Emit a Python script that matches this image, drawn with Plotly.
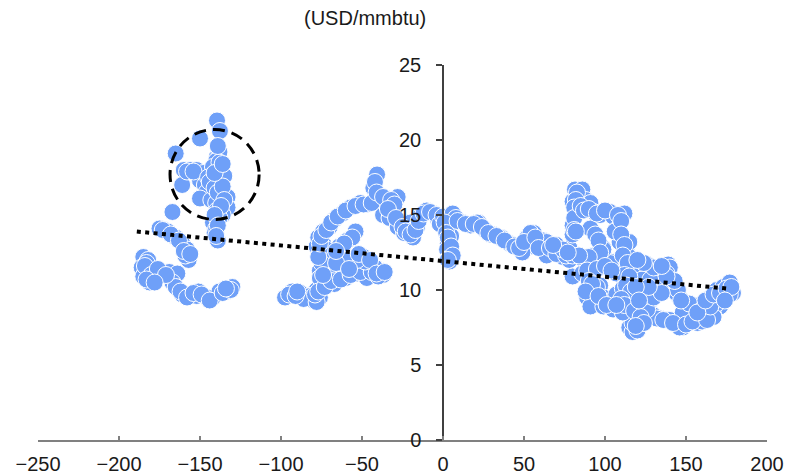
import plotly.graph_objects as go

# ---- data ----
pts_left = [
    (-139.5, 21.3), (-137.7, 20.6), (-150, 20.1), (-165, 19.1),
    (-160, 18.0), (-156, 18.0), (-152, 18.0), (-148, 17.8),
    (-139.5, 18.9), (-138, 19.2), (-140, 18.6), (-142, 18.2), (-137, 18.0), (-135, 17.6),
    (-150, 17.3), (-147, 17.0), (-161, 17.0), (-146, 16.5), (-138, 16.2), (-133, 16.2),
    (-150, 16.1), (-143, 16.0), (-140, 15.8),
    (-139.5, 15.3), (-133, 15.5), (-136, 15.0), (-167, 15.2), (-142, 14.5), (-138, 14.8),
    (-141, 13.8), (-139, 13.3), (-140, 14.1),
    (-175, 14.1), (-172, 14.0), (-170, 13.9), (-165, 13.5), (-161, 13.1), (-158, 12.7),
    (-157, 12.0), (-159, 12.3),
    (-185, 12.2), (-182, 12.0), (-186, 11.5), (-184, 11.1), (-181, 10.5), (-183, 11.8),
    (-185, 10.9), (-179, 10.7),
    (-177, 11.2), (-173, 11.2), (-169, 11.2), (-164, 11.1), (-167, 10.5), (-165, 10.2),
    (-161, 9.7), (-156, 9.7), (-151, 9.9), (-146, 9.5), (-142, 9.5), (-138, 9.9),
    (-133, 9.9), (-130, 10.2), (-152, 9.6),
    (-184, 11.6), (-180, 11.0), (-176, 11.4), (-171, 11.0), (-183, 10.7), (-178, 10.5),
    (-162, 9.9), (-158, 9.5), (-154, 9.8), (-149, 9.7), (-144, 9.3), (-136, 9.8),
    (-131, 10.0), (-134, 10.1),
    (-173, 14.0), (-168, 13.7), (-163, 13.3), (-160, 12.6), (-156, 12.4),
    (-158, 17.9), (-154, 17.9), (-145, 17.5), (-144, 17.2), (-141, 16.8), (-139, 16.5),
    (-136, 16.9), (-135, 16.0), (-137, 15.6), (-141, 15.0), (-139, 14.3), (-140, 13.6),
    (-138, 18.5), (-139, 19.6), (-141, 17.8), (-136, 18.4),
]
pts_mid = [
    (-97.5, 9.5), (-93, 9.9), (-88, 9.8), (-84, 9.5), (-80, 9.3), (-76, 9.5), (-78, 10.0),
    (-82, 9.6), (-86, 9.4), (-78, 9.2),
    (-74, 10.5), (-70, 10.7), (-65, 10.9), (-59, 11.1), (-53, 11.1), (-47, 10.8), (-37, 11.0),
    (-39, 11.3), (-45, 11.8), (-49, 12.2), (-57, 12.0), (-65, 12.2), (-74, 12.0), (-76, 11.3),
    (-72, 11.6), (-68, 11.4), (-62, 11.5), (-55, 11.6), (-42, 11.5), (-50, 11.4), (-60, 10.8),
    (-67, 10.4), (-71, 11.0), (-76, 10.8),
    (-64, 12.9), (-59, 13.3), (-54, 13.9), (-78, 12.9), (-74, 13.1), (-77, 13.5), (-74, 13.9),
    (-70, 14.2), (-67, 14.7), (-62, 15.1), (-57, 15.5), (-51, 15.8), (-47, 15.7), (-76, 12.5),
    (-72, 12.7),
    (-40.7, 17.7), (-43, 16.8), (-39, 16.3), (-35, 16.1), (-28, 16.2), (-36, 15.5), (-31, 15.1),
    (-26.5, 14.5), (-22, 14.0), (-18.5, 13.5), (-14, 14.9), (-10, 15.3), (-6, 15.1), (-37, 15.0),
    (-33, 14.8), (-28, 14.2), (-24, 13.8), (-20, 14.5), (-16, 14.2), (-3, 14.7),
    (-95, 9.7), (-91, 9.6), (-90, 9.9), (-79, 9.7), (-77, 9.9), (-73, 10.2), (-69, 10.6),
    (-63, 10.7), (-57, 11.0), (-51, 11.2), (-44, 11.2), (-40, 10.9), (-48, 11.9), (-53, 12.0),
    (-61, 12.1), (-69, 12.0), (-75, 11.8), (-77, 12.2), (-74, 11.0), (-66, 11.8), (-58, 11.4),
    (-52, 12.4), (-45, 12.0), (-41, 11.1), (-36, 11.2),
    (-76, 13.1), (-75, 13.6), (-72, 14.0), (-69, 14.5), (-65, 14.9), (-60, 15.3), (-54, 15.6),
    (-49, 15.7), (-44, 15.8), (-56, 13.5), (-61, 13.1), (-66, 12.6),
    (-42, 17.2), (-41, 16.5), (-37, 16.2), (-32, 16.0), (-30, 15.7), (-34, 15.4), (-29, 14.8),
    (-25, 14.2), (-23, 13.9), (-20, 13.7), (-17, 14.0), (-15, 14.6), (-12, 15.1), (-8, 15.2),
    (-4, 15.0), (-2, 14.4),
]
pts_center = [
    (0, 14.9), (6, 15.1), (4, 14.0), (3, 13.1), (4, 12.5), (2.5, 12.7), (4, 12.2), (4, 11.9),
    (8, 14.8), (5, 13.6),
    (12, 14.5), (17, 14.3), (22, 14.5), (26, 14.0), (31, 13.7), (36, 13.5), (41, 13.1), (46, 12.9),
    (52, 13.5), (56, 13.8), (54, 12.9), (60, 12.9), (65, 13.1), (68, 12.5), (74, 12.2), (80, 12.5),
    (70, 13.0), (62, 13.3), (21, 14.5), (29, 13.7), (35, 13.5), (43, 13.0), (49, 12.5), (54, 13.8),
    (58, 13.2), (64, 13.2), (64, 12.3), (72, 12.7), (78, 12.0),
    (1, 14.5), (2, 13.8), (3, 13.5), (5, 12.9), (6, 12.3), (3, 12.0), (9, 14.6), (14, 14.4),
    (19, 14.4), (24, 14.2), (28, 13.8), (33, 13.6), (38, 13.3), (44, 12.9), (47, 12.8),
    (50, 13.2), (57, 13.5), (59, 12.8), (66, 12.8), (70, 12.4), (76, 12.3), (78, 12.8),
]
pts_right = [
    (81.5, 16.7), (86, 16.7), (80, 15.9), (82.5, 15.2), (80, 14.3), (80, 13.7), (84, 16.2),
    (88, 16.0), (91, 15.8), (93, 15.2), (97, 15.0), (103, 15.2), (105, 14.9), (112, 15.1),
    (107, 14.0), (91, 14.1), (94, 13.7), (109, 13.2), (113.5, 12.5), (99, 12.8), (93, 12.3),
    (86, 12.1), (80, 12.3), (74, 12.7), (68, 13.0), (103, 11.9), (107, 11.5), (117, 11.9),
    (126, 11.7), (132, 11.2), (122, 11.0), (97, 10.3), (93, 9.9), (89, 9.5), (93, 9.2), (99, 9.5),
    (103, 9.2), (107, 9.7), (111, 10.1), (109, 8.8), (115, 8.3), (120, 7.9), (115, 7.5),
    (117, 7.2), (126, 8.5), (130, 8.3), (134, 8.1),
    (128, 11.5), (139, 11.7), (134, 11.1), (142, 10.2), (146, 9.5), (150, 9.1), (154, 8.7),
    (160, 9.1), (165, 9.5), (169, 10.0), (173, 10.2), (177, 10.5), (179, 9.8), (171, 8.9),
    (167, 8.3), (160, 8.1), (157, 7.8), (148, 7.5), (144, 7.9), (138, 8.0), (132, 8.1),
    (122, 8.9), (128, 9.3),
    (82.7, 16.5), (106, 13.9), (115, 13.2), (115, 12.2), (120, 11.3), (117, 10.5), (113.5, 9.5),
    (117, 8.7), (117, 7.8), (120, 7.3), (91, 8.9), (99, 8.9), (105, 8.7), (111, 8.5), (126, 8.7),
    (140, 8.0), (146, 7.5), (148, 8.5), (152, 9.1), (144, 9.8), (140, 10.7), (136, 11.3),
    (140, 11.5), (123, 10.7), (132, 10.2), (160, 8.7), (169, 9.1), (173, 9.5), (177, 9.7),
    (167, 8.2), (160, 7.9), (80, 10.9), (86, 11.1), (93, 11.8), (95, 10.2), (103, 11.8),
    (99, 12.7), (107, 11.1), (128, 10.7), (138, 11.1),
    (82, 16.0), (81, 15.5), (81, 14.8), (81, 14.0), (82, 13.9), (85, 15.6), (87, 15.3),
    (90, 15.4), (95, 15.1), (100, 15.3), (108, 15.0), (110, 14.6), (110, 13.7), (112, 13.0),
    (111, 12.3), (114, 11.8), (112, 11.0), (115, 10.9), (113, 10.3), (116, 9.9), (110, 9.4),
    (112, 9.0), (96, 13.3), (97, 12.5), (90, 12.2), (84, 12.3), (77, 12.5), (89, 11.3),
    (95, 11.4), (100, 11.6), (104, 11.3), (90, 10.6), (92, 10.4), (88, 9.9), (96, 9.6),
    (101, 9.0), (107, 9.0), (118, 8.6), (122, 8.2), (124, 7.8), (119, 7.6), (136, 8.0),
    (142, 7.8), (150, 7.7), (154, 7.9), (163, 8.0), (165, 8.9), (157, 8.5), (162, 9.3),
    (167, 9.7), (171, 9.8), (175, 10.1), (178, 10.2), (174, 9.3), (145, 10.0), (143, 10.6),
    (138, 10.9), (130, 11.5), (124, 11.8), (120, 12.0), (135, 11.6), (147, 9.3), (125, 9.6),
    (130, 9.5), (135, 9.8), (127, 10.2), (119, 10.2), (121, 9.3),
]

trend_x = [-189, 175]
trend_y = [13.9, 10.1]

x_ticks = [-250, -200, -150, -100, -50, 0, 50, 100, 150, 200]
y_ticks = [0, 5, 10, 15, 20, 25]

all_pts = pts_left + pts_mid + pts_center + pts_right
xs = [p[0] for p in all_pts]
ys = [p[1] for p in all_pts]

FONT = "Liberation Sans, Arial, sans-serif"
TXT = dict(family=FONT, size=20, color="#1a1a1a")

fig = go.Figure()
fig.add_trace(go.Scatter(
    x=xs, y=ys, mode="markers",
    marker=dict(size=17, color="#6FA0F8", line=dict(color="white", width=1)),
    showlegend=False, hoverinfo="skip",
))
fig.add_trace(go.Scatter(
    x=trend_x, y=trend_y, mode="lines",
    line=dict(color="black", width=4, dash="4px,4.4px"),
    showlegend=False, hoverinfo="skip",
))

fig.add_shape(type="circle", xref="x", yref="y",
              x0=-168.5, x1=-113.5, y0=14.7, y1=20.7,
              line=dict(color="black", width=3, dash="12px,7px"))

fig.add_annotation(text="(USD/mmbtu)", xref="paper", yref="paper",
                   x=0.4486, y=1.1253, xanchor="center", yanchor="middle",
                   showarrow=False, font=TXT)

# the page body adds an 8px offset, so margins are shifted to compensate
fig.update_layout(
    width=803, height=475,
    margin=dict(l=30, r=44, t=57, b=43),
    paper_bgcolor="white", plot_bgcolor="white",
    font=TXT,
    xaxis=dict(range=[-250, 200], tickvals=x_ticks, showgrid=False, zeroline=False,
               showline=True, linecolor="#808080", linewidth=1.5, automargin=False,
               ticks="inside", ticklen=4, tickcolor="#808080", tickwidth=1.5,
               ticklabelstandoff=5, tickfont=TXT),
    yaxis=dict(range=[0, 25], tickvals=y_ticks, showgrid=False, zeroline=False,
               showline=True, linecolor="#404040", linewidth=1.5, automargin=False,
               ticks="outside", ticklen=6, tickcolor="#404040", tickwidth=1.5,
               anchor="free", position=250 / 450, ticklabelstandoff=11, tickfont=TXT),
)

fig.write_html("out.html")
